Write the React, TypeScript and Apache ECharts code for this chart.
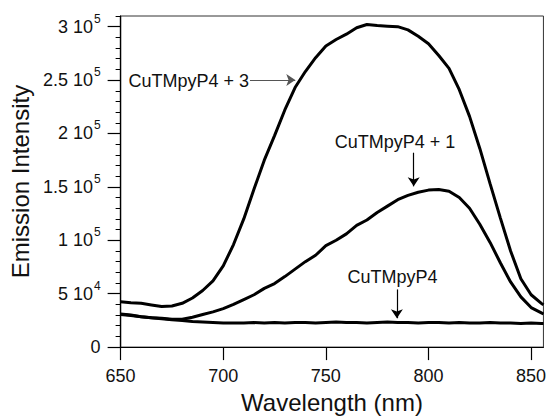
import React, { useEffect, useRef } from "react";
import * as echarts from "echarts";

const FONT = "'Liberation Sans', Arial, Helvetica, sans-serif";

// Wavelength (nm)
const wavelengths = [
  650, 655, 660, 665, 670, 675, 680, 685, 690, 695, 700, 705, 710, 715, 720,
  725, 730, 735, 740, 745, 750, 755, 760, 765, 770, 775, 780, 785, 790, 795,
  800, 805, 810, 815, 820, 825, 830, 835, 840, 845, 850, 855, 856,
];

// CuTMpyP4 + 3
const cuPlus3 = [
  42500, 41500, 41000, 39500, 38000, 38500, 41000, 46000, 53000, 62000, 76000,
  96000, 120000, 148000, 175000, 198000, 222000, 243000, 258000, 271000,
  282000, 288000, 293000, 299000, 302000, 301000, 300500, 300000, 297000,
  291000, 284000, 273000, 261000, 241000, 216000, 186000, 153000, 121000,
  90000, 64000, 49000, 41000, 39500,
];

// CuTMpyP4 + 1
const cuPlus1 = [
  31000, 30000, 28500, 27500, 27000, 26000, 26000, 28000, 30500, 33000, 36000,
  40000, 44500, 49000, 55000, 59500, 66000, 73000, 80000, 86000, 95000,
  100000, 106000, 114000, 119000, 126000, 132000, 138000, 142000, 145000,
  147000, 147500, 146000, 140000, 130000, 115000, 98000, 79000, 61000, 47000,
  37000, 32000, 31000,
];

// CuTMpyP4
const cuBase = [
  30500, 29500, 28500, 27500, 26500, 25500, 25000, 24000, 23500, 23000, 22500,
  22500, 22500, 23000, 22500, 23000, 22500, 23000, 23000, 22500, 23000, 23500,
  23000, 23000, 22500, 23000, 23500, 23000, 23000, 22500, 23000, 23000, 22500,
  23000, 22500, 22500, 23000, 22500, 22500, 22000, 22500, 22000, 22000,
];

const xTicks = [650, 700, 750, 800, 850];
const yMajorTicks = [0, 50000, 100000, 150000, 200000, 250000, 300000];
const yMinorTicks = [
  0, 10000, 20000, 30000, 40000, 50000, 60000, 70000, 80000, 90000, 100000,
  110000, 120000, 130000, 140000, 150000, 160000, 170000, 180000, 190000,
  200000, 210000, 220000, 230000, 240000, 250000, 260000, 270000, 280000,
  290000, 300000, 310000,
];

// annotations (data coordinates)
const labels = [
  { text: "CuTMpyP4 + 3", coord: [683.2, 249500] },
  { text: "CuTMpyP4 + 1", coord: [783.7, 192000] },
  { text: "CuTMpyP4", coord: [782.5, 65800] },
];
const arrows = [
  { from: [713, 250000], to: [735.1, 250000], color: "#555" },
  { from: [792.8, 182000], to: [792.8, 150500], color: "#000" },
  { from: [784.6, 54000], to: [784.6, 27000], color: "#000" },
];

function toPairs(ys: number[]) {
  return wavelengths.map((w, i) => [w, ys[i]]);
}

function yFormatter(v: number) {
  if (v === 0) return "{b|0}";
  const e = Math.floor(Math.log10(v) + 1e-9);
  const m = Math.round((v / Math.pow(10, e)) * 100) / 100;
  return `{b|${m} 10}{s|${e}}`;
}

export default function App() {
  const ref = useRef<HTMLDivElement>(null);
  useEffect(() => {
    if (!ref.current) return;
    const chart = echarts.init(ref.current, null, { renderer: "svg" });
    const lineSeries = (name: string, ys: number[], extra: any = {}) => ({
      name,
      type: "line",
      data: toPairs(ys),
      showSymbol: false,
      smooth: false,
      lineStyle: { color: "#000", width: 3 },
      z: 3,
      ...extra,
    });
    chart.setOption({
      animation: false,
      backgroundColor: "#fff",
      textStyle: { fontFamily: FONT },
      grid: {
        left: 116,
        right: 4,
        top: 16,
        bottom: 59,
        show: true,
        borderColor: "#333",
        borderWidth: 1,
        backgroundColor: "transparent",
      },
      xAxis: {
        type: "value",
        min: 650,
        max: 856,
        interval: 50,
        axisLine: { show: true, onZero: false, lineStyle: { color: "#000", width: 1.2 } },
        axisTick: {
          show: true,
          length: 13,
          inside: false,
          customValues: xTicks,
          lineStyle: { color: "#000", width: 1.2 },
        },
        axisLabel: {
          customValues: xTicks,
          fontSize: 18,
          color: "#111",
          margin: 20,
          fontFamily: FONT,
        },
        splitLine: { show: false },
        name: "Wavelength (nm)",
        nameLocation: "middle",
        nameGap: 35,
        nameTextStyle: { fontSize: 24, color: "#111", fontFamily: FONT },
      },
      yAxis: [
        {
          type: "value",
          min: 0,
          max: 310000,
          interval: 10000,
          axisLine: { show: true, onZero: false, lineStyle: { color: "#000", width: 1.2 } },
          axisTick: {
            show: true,
            length: 5,
            inside: false,
            customValues: yMinorTicks,
            lineStyle: { color: "#000", width: 1 },
          },
          axisLabel: { show: false },
          splitLine: { show: false },
        },
        {
          type: "value",
          min: 0,
          max: 310000,
          interval: 50000,
          position: "left",
          offset: 0,
          axisLine: { show: true, onZero: false, lineStyle: { color: "#000", width: 1.2 } },
          axisTick: {
            show: true,
            length: 13,
            inside: false,
            customValues: yMajorTicks,
            lineStyle: { color: "#000", width: 1.2 },
          },
          axisLabel: {
            customValues: yMajorTicks,
            margin: 20,
            formatter: yFormatter,
            rich: {
              b: { fontSize: 18, color: "#111", fontFamily: FONT, lineHeight: 28 },
              s: {
                fontSize: 12,
                color: "#111",
                fontFamily: FONT,
                lineHeight: 12,
                verticalAlign: "top",
                padding: [0, 0, 0, 1],
              },
            },
          },
          splitLine: { show: false },
          name: "Emission Intensity",
          nameLocation: "middle",
          nameGap: 80,
          nameTextStyle: { fontSize: 24, color: "#111", fontFamily: FONT },
        },
      ],
      series: [
        lineSeries("CuTMpyP4 + 3", cuPlus3),
        lineSeries("CuTMpyP4 + 1", cuPlus1),
        lineSeries("CuTMpyP4", cuBase, {
          markLine: {
            silent: true,
            symbol: ["none", "arrow"],
            symbolSize: 9,
            label: { show: false },
            data: arrows.map((a) => [
              {
                coord: a.from,
                symbol: "none",
                lineStyle: { color: a.color, width: 1.2, type: "solid" },
                itemStyle: { color: a.color },
              },
              { coord: a.to, symbol: "arrow", symbolSize: 9, itemStyle: { color: a.color } },
            ]),
          },
        }),
      ],
    });
    // annotation texts positioned through the chart's own coordinate conversion
    const graphics = labels.map((l) => {
      const p = chart.convertToPixel({ xAxisIndex: 0, yAxisIndex: 0 }, l.coord) as number[];
      return {
        type: "text",
        x: p[0],
        y: p[1],
        z: 10,
        silent: true,
        style: {
          text: l.text,
          fontSize: 18,
          fontFamily: FONT,
          fill: "#111",
          align: "center",
          verticalAlign: "middle",
        },
      };
    });
    chart.setOption({ graphic: graphics });
    return () => chart.dispose();
  }, []);
  return <div ref={ref} style={{ width: 549, height: 419, position: "absolute", left: 0, top: 0 }} />;
}
